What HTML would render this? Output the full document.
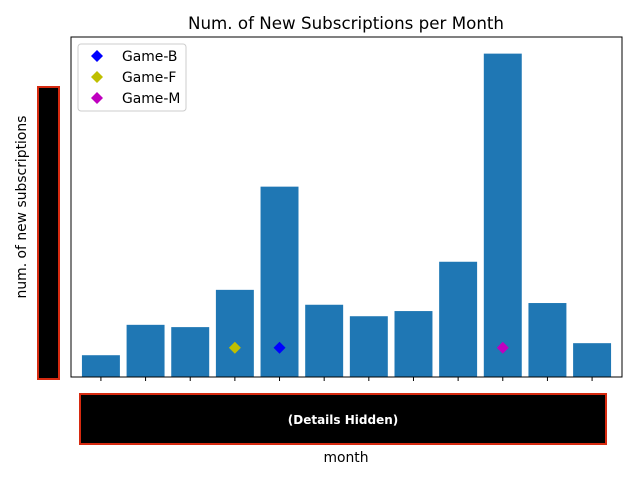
<!DOCTYPE html>
<html><head><meta charset="utf-8"><style>
body{margin:0;background:#fff;font-family:"DejaVu Sans","Liberation Sans",sans-serif}
</style></head><body>
<svg width="640" height="480" viewBox="0 0 640 480" xmlns="http://www.w3.org/2000/svg" font-family="DejaVu Sans, Liberation Sans, sans-serif">
<text x="346" y="29" text-anchor="middle" font-size="16.7" fill="#000">Num. of New Subscriptions per Month</text>
<g id="bars"></g>
<g id="ticks"></g>
<g id="markers"></g>
<rect x="71" y="37" width="551" height="340" fill="none" stroke="#000" stroke-width="1"/>
<rect x="38" y="87" width="21" height="292" fill="#000" stroke="#d62a10" stroke-width="2"/>
<text transform="translate(26,207) rotate(-90)" text-anchor="middle" font-size="13.9">num. of new subscriptions</text>
<rect x="80" y="394" width="526" height="50" fill="#000" stroke="#d62a10" stroke-width="2"/>
<text x="343" y="424" text-anchor="middle" font-size="12" font-weight="bold" fill="#fff">(Details Hidden)</text>
<text x="346" y="462" text-anchor="middle" font-size="13.9">month</text>
<g>
<rect x="78" y="44" width="108" height="67" rx="3" fill="#fff" stroke="#ccc"/>
<g id="legend"></g>
</g>
</svg>
<script>
const months=[1,2,3,4,5,6,7,8,9,10,11,12];
const subs=[3.8,9.1,8.7,15.2,33.2,12.6,10.6,11.5,20.1,56.4,12.9,5.9];
const gameNames=["Game-B","Game-F","Game-M"];
const gameColors=["#0000ff","#bfbf00","#bf00bf"];
const gameIdx=[4,3,9];
const gameVals=[5.1,5.1,5.1];
const NS="http://www.w3.org/2000/svg";
const X0=71,X1=622,Y0=377,YT=37;
const xmin=-0.67,xmax=11.67,ymax=59.3;
const xs=i=>X0+(i-xmin)/(xmax-xmin)*(X1-X0);
const ys=v=>Y0-v/ymax*(Y0-YT);
const bw=0.85*(X1-X0)/(xmax-xmin);
function mk(t,a){const e=document.createElementNS(NS,t);for(const k in a)e.setAttribute(k,a[k]);return e;}
const bars=document.getElementById('bars'),ticks=document.getElementById('ticks'),mg=document.getElementById('markers'),lg=document.getElementById('legend');
months.forEach((m,i)=>{
 const r=mk('rect',{x:xs(i)-bw/2,y:ys(subs[i]),width:bw,height:Y0-ys(subs[i]),fill:'#1f77b4'});
 
 
 bars.appendChild(r);
 const t=mk('line',{x1:xs(i),x2:xs(i),y1:Y0,y2:Y0+4,stroke:'#000'});
 
 
 ticks.appendChild(t);
});
function diamond(cx,cy,s,c){return mk('path',{d:`M${cx} ${cy-s}L${cx+s} ${cy}L${cx} ${cy+s}L${cx-s} ${cy}Z`,fill:c});}
gameNames.forEach((g,k)=>{
 const d=diamond(xs(gameIdx[k]),ys(gameVals[k]),6,gameColors[k]);
 
 
 mg.appendChild(d);
 const y=56+k*21;
 const ld=diamond(97,y,6,gameColors[k]);
 
 
 lg.appendChild(ld);
 const tx=mk('text',{x:122,y:y+5,'font-size':'13.9'});
 tx.textContent=g;
 
 
 lg.appendChild(tx);
});
</script>
</body></html>
